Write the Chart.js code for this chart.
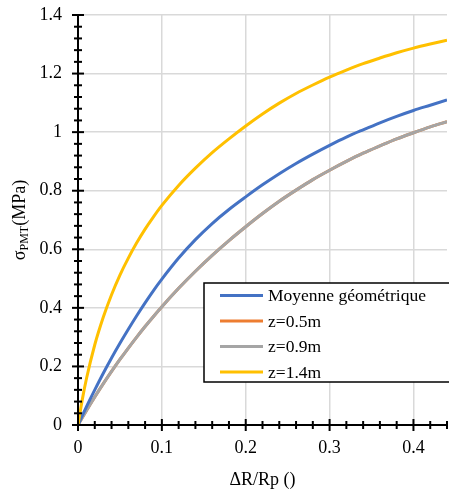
<!DOCTYPE html>
<html>
<head>
<meta charset="utf-8">
<script src="https://cdn.jsdelivr.net/npm/chart.js@4/dist/chart.umd.min.js"></script>
<style>
html,body{margin:0;padding:0;background:#fff;}
#wrap{width:449px;height:491px;position:relative;}
</style>
</head>
<body>
<div id="wrap"><canvas id="c" width="449" height="491"></canvas></div>
<script>
// ---- data ----
const xValues = [0,0.005,0.01,0.02,0.03,0.04,0.05,0.06,0.07,0.08,0.09,0.1,0.12,0.14,0.16,0.18,0.2,0.22,0.24,0.26,0.28,0.3,0.32,0.34,0.36,0.38,0.4,0.42,0.44];
const moyenneValues = [0,0.031,0.062,0.12,0.176,0.229,0.279,0.327,0.373,0.417,0.459,0.498,0.57,0.633,0.688,0.736,0.779,0.82,0.858,0.893,0.925,0.955,0.983,1.008,1.032,1.054,1.074,1.092,1.11];
const z05Values = [0,0.0248,0.0489,0.0956,0.1402,0.1828,0.2237,0.2628,0.3003,0.3363,0.3708,0.404,0.4668,0.5251,0.5793,0.6298,0.677,0.722,0.764,0.802,0.838,0.870,0.900,0.928,0.953,0.977,0.998,1.018,1.036];
const z09Values = [0,0.0248,0.0489,0.0956,0.1402,0.1828,0.2237,0.2628,0.3003,0.3363,0.3708,0.404,0.4668,0.5251,0.5793,0.6298,0.677,0.722,0.764,0.802,0.838,0.870,0.900,0.928,0.953,0.977,0.998,1.018,1.036];
const z14Values = [0,0.085,0.157,0.274,0.367,0.445,0.512,0.57,0.622,0.669,0.711,0.75,0.818,0.877,0.93,0.977,1.021,1.062,1.099,1.132,1.161,1.188,1.212,1.234,1.253,1.271,1.287,1.301,1.314];
const seriesLabels = ["Moyenne géométrique","z=0.5m","z=0.9m","z=1.4m"];
const xTickLabels = ["0","0.1","0.2","0.3","0.4"];
const yTickLabels = ["0","0.2","0.4","0.6","0.8","1","1.2","1.4"];
const xTitle = "ΔR/Rp ()";
const yTitleParts = ["σ","PMT","(MPa)"];

const FONT = "'Liberation Serif','Times New Roman',serif";
const pts = arr => xValues.map((x,i)=>({x:x,y:arr[i]}));

const axesPlugin = {
  id:'axesPlugin',
  afterDatasetsDraw(chart){
    const ctx = chart.ctx, xs = chart.scales.x, ys = chart.scales.y;
    const x0 = xs.getPixelForValue(0), y0 = ys.getPixelForValue(0);
    ctx.save();
    ctx.strokeStyle='#000'; ctx.lineWidth=2; ctx.lineCap='butt';
    ctx.beginPath();
    ctx.moveTo(x0, ys.top-1); ctx.lineTo(x0, y0+1);
    ctx.moveTo(x0-1, y0); ctx.lineTo(xs.right, y0);
    ctx.stroke();
    for(let k=0;k<=35;k++){
      const p = ys.getPixelForValue(k*0.04);
      const L = (k%5===0)?6:4;
      ctx.beginPath(); ctx.moveTo(x0-L,p); ctx.lineTo(x0+L,p); ctx.stroke();
    }
    for(let k=0;k<=22;k++){
      const p = xs.getPixelForValue(k*0.02);
      const L = (k%5===0)?6:4;
      ctx.beginPath(); ctx.moveTo(p,y0-L); ctx.lineTo(p,y0+L); ctx.stroke();
    }
    ctx.restore();
  },
  afterDraw(chart){
    const ctx = chart.ctx, xs = chart.scales.x, ys = chart.scales.y;
    ctx.save();
    ctx.fillStyle='#000';
    ctx.font = "18px "+FONT;
    ctx.textAlign='center'; ctx.textBaseline='middle';
    ctx.fillText(xTitle, (xs.left+xs.right)/2, 480);
    ctx.translate(19, (ys.top+ys.bottom)/2);
    ctx.rotate(-Math.PI/2);
    const big = "18px "+FONT, small = "12px "+FONT;
    ctx.font=big; const w1=ctx.measureText(yTitleParts[0]).width;
    ctx.font=small; const w2=ctx.measureText(yTitleParts[1]).width;
    ctx.font=big; const w3=ctx.measureText(yTitleParts[2]).width;
    let sx = -(w1+w2+w3)/2;
    ctx.textAlign='left'; ctx.textBaseline='alphabetic';
    ctx.font=big; ctx.fillText(yTitleParts[0], sx, 6); sx+=w1;
    ctx.font=small; ctx.fillText(yTitleParts[1], sx, 9); sx+=w2;
    ctx.font=big; ctx.fillText(yTitleParts[2], sx, 6);
    ctx.restore();
    ctx.save();
    const bx=204, by=283, bw=246, bh=99;
    ctx.fillStyle='#fff'; ctx.fillRect(bx,by,bw,bh);
    ctx.strokeStyle='#000'; ctx.lineWidth=1.5; ctx.strokeRect(bx,by,bw,bh);
    ctx.font="17.5px "+FONT; ctx.textBaseline='middle'; ctx.textAlign='left';
    chart.data.datasets.forEach((ds,i)=>{
      const yy = 295.5 + i*25.5;
      ctx.strokeStyle=ds.borderColor; ctx.lineWidth=3;
      ctx.beginPath(); ctx.moveTo(220,yy); ctx.lineTo(263,yy); ctx.stroke();
      ctx.fillStyle='#000'; ctx.fillText(ds.label, 268, yy+1);
    });
    ctx.restore();
  }
};

new Chart(document.getElementById('c'), {
  type:'line',
  data:{
    datasets:[
      {label:seriesLabels[0], data:pts(moyenneValues), borderColor:'#4472C4', order:1},
      {label:seriesLabels[1], data:pts(z05Values), borderColor:'#ED7D31', order:3},
      {label:seriesLabels[2], data:pts(z09Values), borderColor:'#A5A5A5', order:2},
      {label:seriesLabels[3], data:pts(z14Values), borderColor:'#FFC000', order:0}
    ].map(d=>Object.assign(d,{borderWidth:3, pointRadius:0, fill:false, cubicInterpolationMode:'monotone'}))
  },
  options:{
    responsive:false, animation:false, devicePixelRatio:1,
    layout:{padding:{left:0,right:2,top:15,bottom:0}},
    plugins:{legend:{display:false}, tooltip:{enabled:false}},
    scales:{
      x:{type:'linear', min:0, max:0.44,
        afterFit(s){ s.height = 66; s.paddingLeft = 0; s.paddingRight = 0; },
        grid:{color:ctx=> ctx.tick && ctx.tick.value===0 ? 'rgba(0,0,0,0)' : '#d9d9d9', lineWidth:1.5, drawTicks:false},
        border:{display:false},
        ticks:{stepSize:0.1, includeBounds:false, padding:12, color:'#000', font:{family:FONT,size:18},
          callback:(v)=> xTickLabels[Math.round(v*10)] ?? ''}
      },
      y:{type:'linear', min:0, max:1.4,
        afterFit(s){ s.width = 78; s.paddingTop = 0; s.paddingBottom = 0; },
        grid:{color:ctx=> ctx.tick && ctx.tick.value===0 ? 'rgba(0,0,0,0)' : '#d9d9d9', lineWidth:1.5, drawTicks:false},
        border:{display:false},
        ticks:{stepSize:0.2, includeBounds:false, padding:16, color:'#000', font:{family:FONT,size:18},
          callback:(v)=> yTickLabels[Math.round(v*5)] ?? ''}
      }
    }
  },
  plugins:[axesPlugin]
});
</script>
</body>
</html>
